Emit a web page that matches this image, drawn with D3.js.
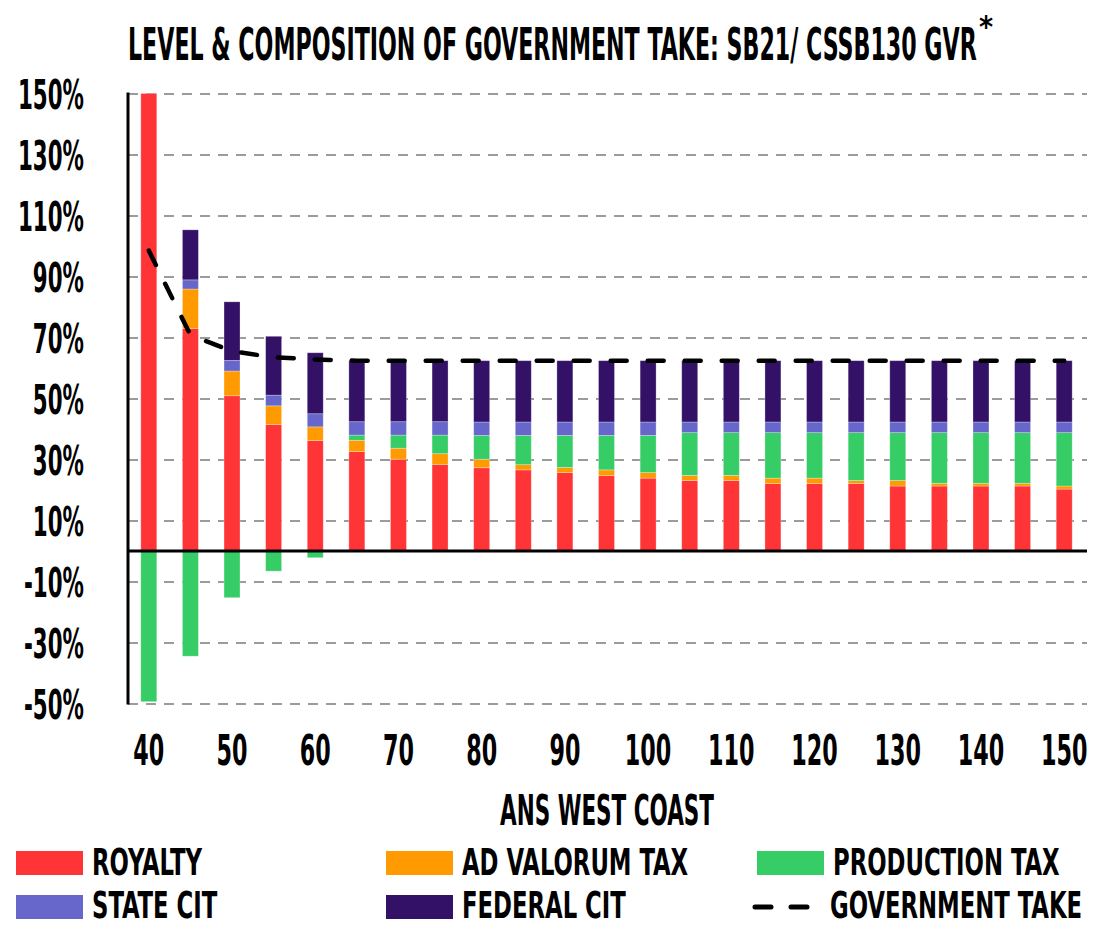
<!DOCTYPE html>
<html>
<head>
<meta charset="utf-8">
<script src="https://cdn.jsdelivr.net/npm/d3@7"></script>
<style>
  body { margin: 0; background: #fff; }
  svg text { font-family: 'Liberation Sans Narrow', 'DejaVu Sans Condensed', 'Roboto Condensed', sans-serif; font-weight: bold; fill: #000; }
</style>
</head>
<body>
<svg id="chart" width="1094" height="927"></svg>
<script>
// ANS West Coast price, $/bbl
var prices = [40, 45, 50, 55, 60, 65, 70, 75, 80, 85, 90, 95, 100, 105, 110, 115, 120, 125, 130, 135, 140, 145, 150];
// components of government take, %
var royalty    = [150, 73.0, 50.9, 41.5, 36.2, 32.6, 30.1, 28.4, 27.3, 26.6, 25.7, 24.7, 23.9, 23.1, 23.1, 22.1, 22.1, 22.1, 21.3, 21.3, 21.3, 21.3, 20.3];
var adValorum  = [0, 12.9, 8.1, 6.1, 4.5, 3.7, 3.6, 3.5, 2.8, 1.7, 1.7, 1.9, 1.8, 1.7, 1.7, 1.8, 1.8, 1.0, 1.8, 0.9, 0.9, 0.9, 1.0];
var production = [-49.4, -34.5, -15.3, -6.6, -2.2, 1.7, 4.3, 6.1, 7.8, 9.6, 10.5, 11.3, 12.2, 14.0, 14.0, 14.9, 14.9, 15.7, 15.7, 16.6, 16.6, 16.6, 17.5];
var stateCit   = [0, 3.0, 3.5, 3.5, 4.3, 4.4, 4.4, 4.4, 4.4, 4.4, 4.4, 4.4, 4.4, 3.5, 3.5, 3.5, 3.5, 3.5, 3.5, 3.5, 3.5, 3.5, 3.5];
var federalCit = [0, 16.4, 19.2, 19.3, 20.0, 20.0, 20.0, 20.0, 20.1, 20.1, 20.1, 20.1, 20.1, 20.1, 20.1, 20.1, 20.1, 20.1, 20.1, 20.1, 20.1, 20.1, 20.1];
var govTake    = [98.5, 70.8, 65.5, 63.5, 62.8, 62.4, 62.4, 62.4, 62.4, 62.4, 62.4, 62.4, 62.4, 62.4, 62.4, 62.4, 62.4, 62.4, 62.4, 62.4, 62.4, 62.4, 62.4];

var yTicks = [-50, -30, -10, 10, 30, 50, 70, 90, 110, 130, 150];
var xTicks = [40, 50, 60, 70, 80, 90, 100, 110, 120, 130, 140, 150];
var keys = ["royalty", "adValorum", "production", "stateCit", "federalCit"];
var labels = ["ROYALTY", "AD VALORUM TAX", "PRODUCTION TAX", "STATE CIT", "FEDERAL CIT"];
var colors = ["#fe3437", "#ff9a00", "#36cd66", "#6767cb", "#331166"];

var rows = prices.map(function (p, i) {
  return { price: p, royalty: royalty[i], adValorum: adValorum[i], production: production[i],
           stateCit: stateCit[i], federalCit: federalCit[i] };
});

var svg = d3.select("#chart"),
  left = 128, right = 1087,
  x = d3.scaleBand().domain(prices).range([128, 1085]).paddingInner(0.616).paddingOuter(0.308),
  y = d3.scaleLinear().domain([-50, 150]).range([703.5, 93.5]),
  color = d3.scaleOrdinal().domain(keys).range(colors);

// horizontal squeeze factor so a text ends up `target` px wide
function factor(node, target) {
  return target / node.getComputedTextLength();
}
// squeeze texts placed at (px, py) via a transform, so the boxes stay honest
function squeezeAt(sel, k) {
  sel.each(function () {
    var t = d3.select(this),
      px = +t.attr("x") || 0, py = +t.attr("y") || 0;
    t.attr("x", 0).attr("y", 0)
      .attr("transform", "translate(" + px + "," + py + ") scale(" + k + ",1)");
  });
}

// grid
var grid = svg.append("g")
  .attr("transform", "translate(" + left + ",0)")
  .call(d3.axisLeft(y).tickValues(yTicks).tickSize(-(right - left)).tickFormat(""));
grid.select(".domain").remove();
grid.selectAll("line")
  .attr("stroke", "#9b9b9b").attr("stroke-width", 2).attr("stroke-dasharray", "10,8");

// bars
var stacked = d3.stack().keys(keys).offset(d3.stackOffsetDiverging)(rows);
svg.append("g").selectAll("g")
  .data(stacked)
  .join("g")
    .attr("fill", function (d) { return color(d.key); })
  .selectAll("rect")
  .data(function (d) { return d; })
  .join("rect")
    .attr("x", function (d) { return x(d.data.price); })
    .attr("width", x.bandwidth())
    .attr("y", function (d) { return y(Math.max(d[0], d[1])); })
    .attr("height", function (d) { return Math.abs(y(d[0]) - y(d[1])); })
    .attr("stroke", "#fff").attr("stroke-opacity", 0.35).attr("stroke-width", 0.8);

// zero line and y axis line
svg.append("line")
  .attr("x1", left).attr("x2", right).attr("y1", y(0)).attr("y2", y(0))
  .attr("stroke", "#000").attr("stroke-width", 3);
svg.append("line")
  .attr("x1", left).attr("x2", left).attr("y1", y(150) - 1).attr("y2", y(-50) + 1)
  .attr("stroke", "#000").attr("stroke-width", 3);

// government take line
var line = d3.line()
  .x(function (d, i) { return x(prices[i]) + x.bandwidth() / 2; })
  .y(function (d) { return y(d); });
svg.append("path")
  .datum(govTake)
  .attr("d", line)
  .attr("fill", "none").attr("stroke", "#000").attr("stroke-width", 4.5)
  .attr("stroke-linecap", "round").attr("stroke-dasharray", "16,21");

// y labels
var yAx = svg.append("g")
  .attr("transform", "translate(84,0)")
  .call(d3.axisLeft(y).tickValues(yTicks).tickSize(0).tickPadding(0)
    .tickFormat(function (d) { return d + "%"; }));
yAx.select(".domain").remove();
var yText = yAx.selectAll("text").attr("font-size", 41).attr("dy", "0.36em");

// x labels
var xAx = svg.append("g")
  .attr("transform", "translate(0,765)")
  .call(d3.axisBottom(x).tickValues(xTicks).tickSize(0).tickPadding(0));
xAx.select(".domain").remove();
var xText = xAx.selectAll("text").attr("font-size", 42).attr("dy", 0).attr("y", 0);

// title
var title = svg.append("text")
  .attr("x", 128).attr("y", 60).attr("font-size", 44)
  .text("LEVEL & COMPOSITION OF GOVERNMENT TAKE: SB21/ CSSB130 GVR");
svg.append("text")
  .attr("x", 979).attr("y", 37).attr("font-size", 30)
  .text("*");

var axisTitle = svg.append("text")
  .attr("x", 607).attr("y", 825).attr("font-size", 42).attr("text-anchor", "middle")
  .text("ANS WEST COAST");

// legend
var colX = [16, 386, 757], rowY = [851, 895], rowBase = [875, 918];
var leg = svg.append("g");
labels.forEach(function (l, i) {
  var r = Math.floor(i / 3), cx = colX[i % 3];
  leg.append("rect").attr("x", cx).attr("y", rowY[r]).attr("width", 67).attr("height", 24).attr("fill", colors[i]);
  leg.append("text").attr("class", "lt").attr("x", cx + 76).attr("y", rowBase[r]).attr("font-size", 38).text(l);
});
leg.append("line")
  .attr("x1", 755).attr("x2", 809).attr("y1", 907).attr("y2", 907)
  .attr("stroke", "#000").attr("stroke-width", 5).attr("stroke-linecap", "round")
  .attr("stroke-dasharray", "16,20");
leg.append("text").attr("class", "lt").attr("x", 830).attr("y", rowBase[1]).attr("font-size", 38).text("GOVERNMENT TAKE");

// fit widths to the condensed look of the original
squeezeAt(title, factor(title.node(), 849));
var legText = leg.selectAll("text.lt");
var kLeg = factor(legText.node(), 110);
squeezeAt(legText, kLeg);
squeezeAt(axisTitle, factor(axisTitle.node(), 214));
var kY = factor(yText.filter(function (d) { return d === 150; }).node(), 66);
yText.attr("transform", "scale(" + kY + ",1)");
var kX = factor(xText.filter(function (d) { return d === 40; }).node(), 31);
xText.attr("transform", "scale(" + kX + ",1)");
</script>
</body>
</html>
